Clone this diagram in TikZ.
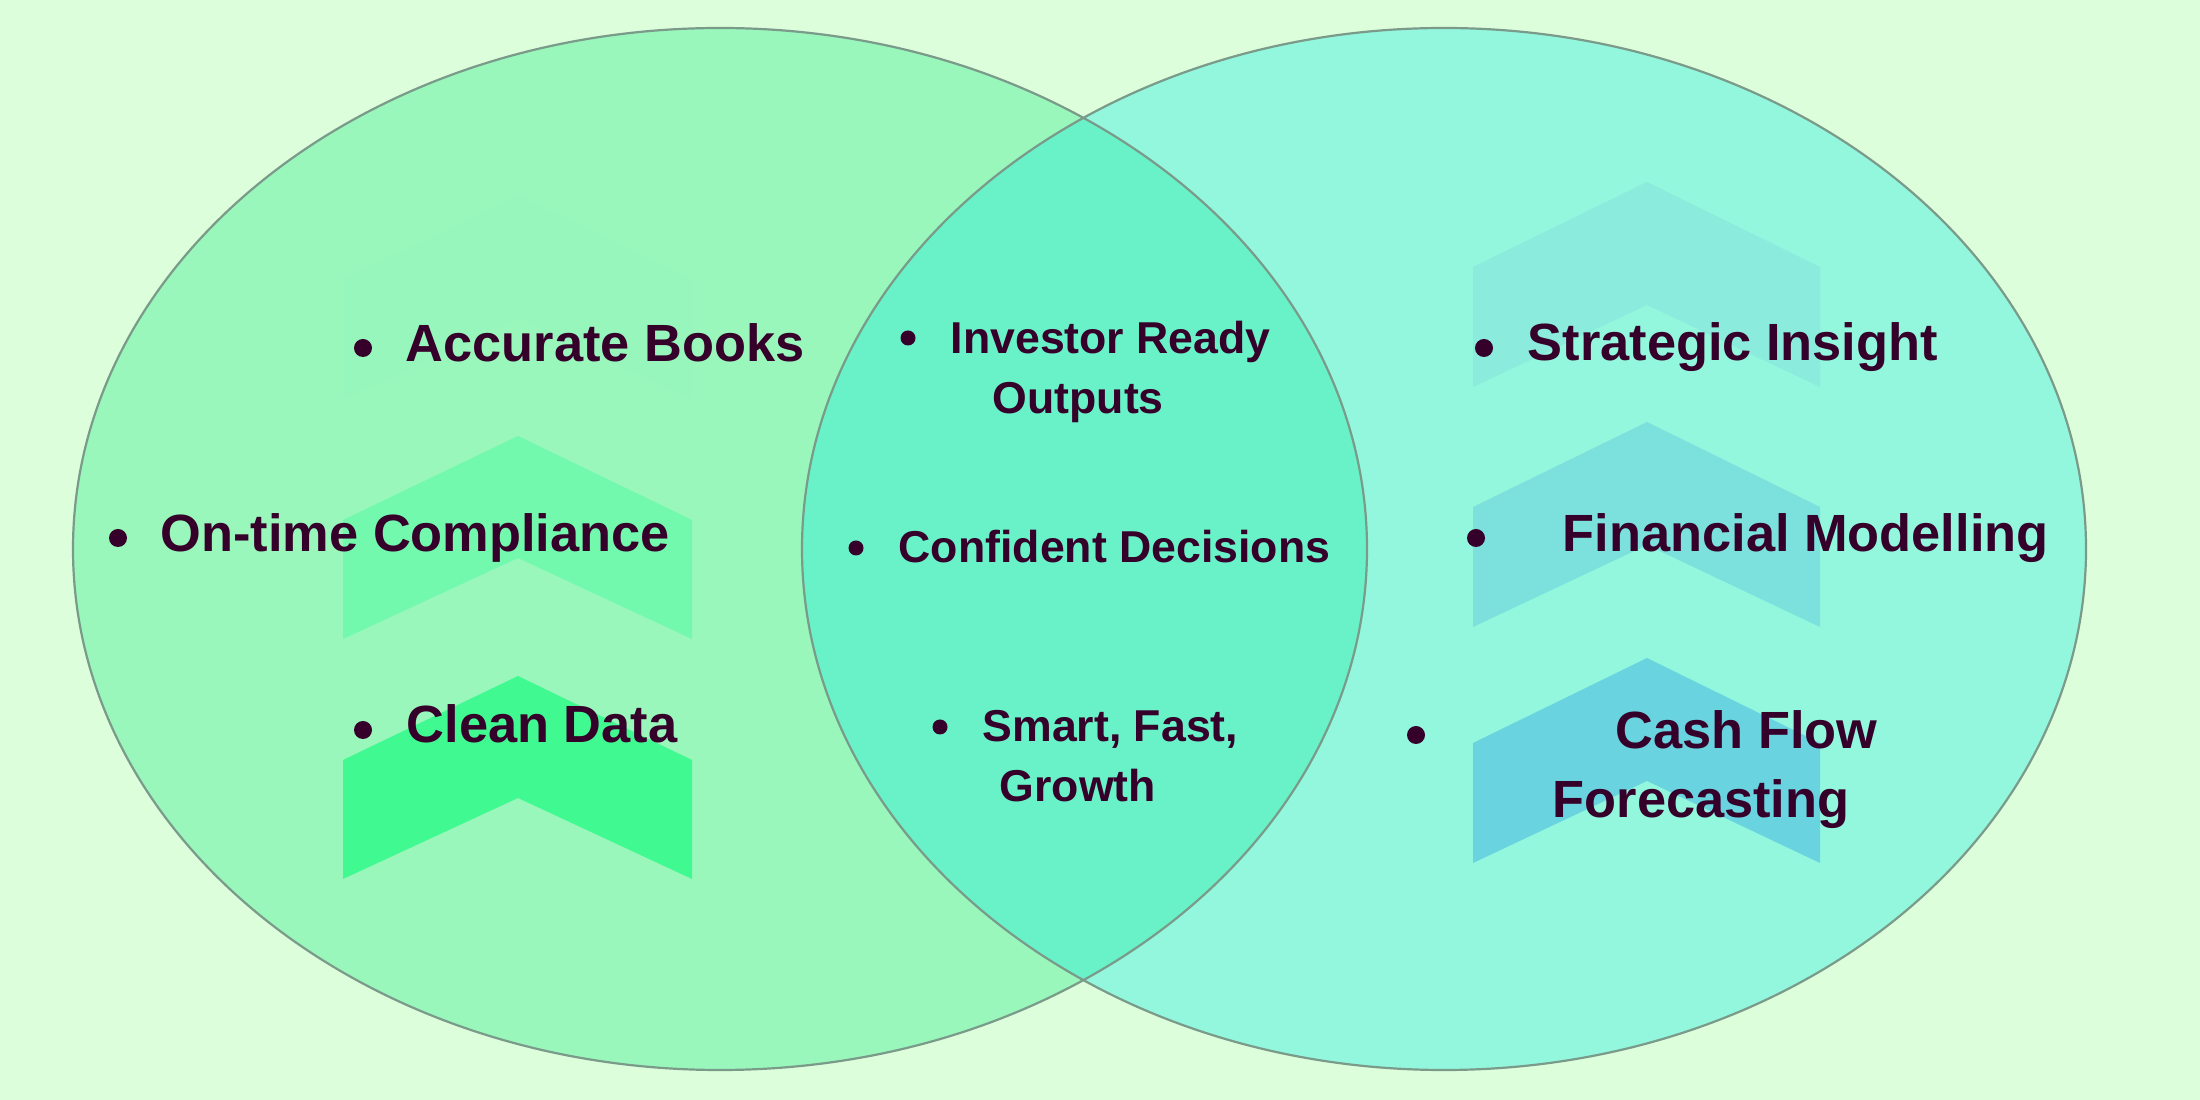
\documentclass[tikz,border=0pt]{standalone}
\usepackage{fontspec}
\setmainfont{Liberation Sans}

\definecolor{bg}{HTML}{DDFEDB}
\definecolor{leftfill}{HTML}{99F7BB}
\definecolor{rightfill}{HTML}{93F7DE}
\definecolor{lensfill}{HTML}{69F2C8}
\definecolor{rim}{HTML}{7A9A8A}
\definecolor{ink}{HTML}{350029}
\definecolor{chevLa}{HTML}{96F6BB}
\definecolor{chevLb}{HTML}{72F9AE}
\definecolor{chevLc}{HTML}{40F991}
\definecolor{chevRa}{HTML}{8BEBDD}
\definecolor{chevRb}{HTML}{7CE0DC}
\definecolor{chevRc}{HTML}{69D4DF}

\begin{document}
\begin{tikzpicture}[x=0.1mm,y=-0.1mm]
        \tikzstyle{every node}=[inner sep=0,text=ink]
        \tikzstyle{item}=[anchor=base west,font=\bfseries\fontsize{14.9}{17}\selectfont]
        \tikzstyle{mid}=[anchor=base west,font=\bfseries\fontsize{12.7}{15}\selectfont]
        \tikzstyle{dot}=[circle,fill=ink,minimum size=1.8mm]
        \tikzstyle{smalldot}=[circle,fill=ink,minimum size=1.5mm]
        \tikzstyle{rimline}=[draw=rim,line width=0.22mm]

            \useasboundingbox (0,0) rectangle (2200,1100);
            \fill[bg] (0,0) rectangle (2200,1100);

            % the two sets and their overlap
            \fill[leftfill] (720,549) ellipse [x radius=647, y radius=521];
            \fill[rightfill] (1444,549) ellipse [x radius=642, y radius=521];
            \begin{scope}
                \clip (720,549) ellipse [x radius=647, y radius=521];
                \fill[lensfill] (1444,549) ellipse [x radius=642, y radius=521];
            \end{scope}

            % chevrons
            \foreach \y/\c in {196/chevLa,436/chevLb,676/chevLc}
                \fill[\c] (343,\y+84) -- (518,\y) -- (692,\y+84) -- (692,\y+203)
                    -- (518,\y+122) -- (343,\y+203) -- cycle;
            \foreach \y/\c in {182/chevRa,422/chevRb,658/chevRc}
                \fill[\c] (1473,\y+85) -- (1647,\y) -- (1820,\y+85) -- (1820,\y+205)
                    -- (1647,\y+123) -- (1473,\y+205) -- cycle;

            \draw[rimline] (720,549) ellipse [x radius=647, y radius=521];
            \draw[rimline] (1444,549) ellipse [x radius=642, y radius=521];

            % left set
            \node[dot] (dbooks) at (363,348) {};
            \node[item] (books) at (405,362) {Accurate Books};
            \node[dot] (dcomp) at (118,538) {};
            \node[item] (comp) at (160,552) {On-time Compliance};
            \node[dot] (dclean) at (363,730) {};
            \node[item] (clean) at (406,743) {Clean Data};

            % overlap
            \node[smalldot] (dinv) at (908,338) {};
            \node[mid] (inv) at (950,354) {Investor Ready};
            \node[mid] (out) at (992,414) {Outputs};
            \node[smalldot] (dconf) at (856,548) {};
            \node[mid] (conf) at (898,563) {Confident Decisions};
            \node[smalldot] (dsmart) at (940,727) {};
            \node[mid] (smart) at (982,742) {Smart, Fast,};
            \node[mid] (grow) at (999,802) {Growth};

            % right set
            \node[dot] (dstrat) at (1484,348) {};
            \node[item] (strat) at (1527,361) {Strategic Insight};
            \node[dot] (dfin) at (1476,538) {};
            \node[item] (fin) at (1562,552) {Financial Modelling};
            \node[dot] (dcash) at (1416,735) {};
            \node[item] (cash) at (1615,749) {Cash Flow};
            \node[item] (fore) at (1552,818) {Forecasting};
        \end{tikzpicture}
\end{document}
